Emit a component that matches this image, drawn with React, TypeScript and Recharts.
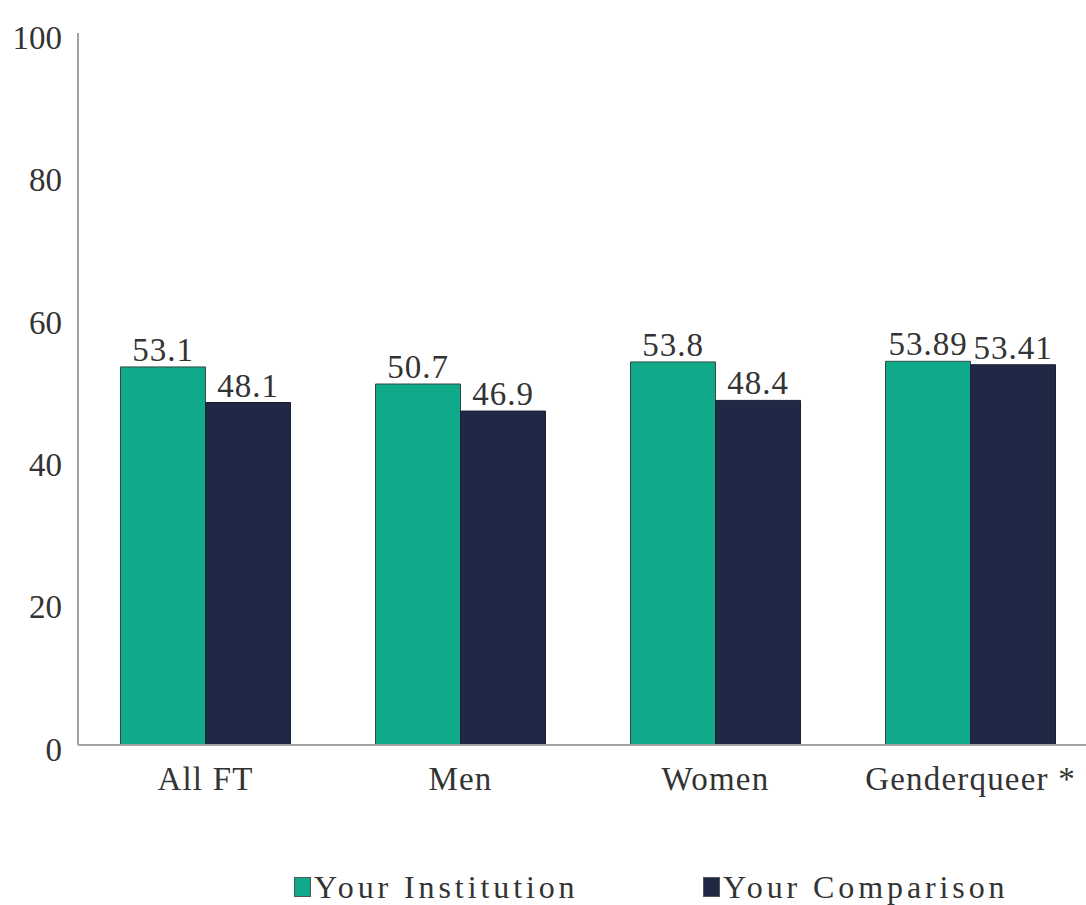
import { Bar, BarChart, XAxis, YAxis, Legend, LabelList } from "recharts"

const groups = ["All FT", "Men", "Women", "Genderqueer *"]
const institution = [53.1, 50.7, 53.8, 53.89]
const comparison = [48.1, 46.9, 48.4, 53.41]
const yTicks = [0, 20, 40, 60, 80, 100]

const seriesNames = ["Your Institution", "Your Comparison"]
const seriesColors = ["#10a98a", "#1f2945"]

const data = groups.map((group, i) => ({
  group,
  institution: institution[i],
  comparison: comparison[i],
}))

const font = "'Liberation Serif', 'Times New Roman', serif"
const textColor = "#333"
const axisColor = "#a3a3a3"

// legend sits off-centre, each entry in a fixed-width slot
function LegendContent() {
  return (
    <div
      style={{
        display: "flex",
        alignItems: "center",
        height: 36,
        paddingLeft: 294,
        fontFamily: font,
        whiteSpace: "nowrap",
      }}
    >
      {seriesNames.map((name, i) => (
        <div key={name} style={{ display: "flex", alignItems: "center", flexShrink: 0, width: 409 }}>
          <span
            style={{
              display: "inline-block",
              width: 15,
              height: 18,
              background: seriesColors[i],
              border: "1px solid #555",
              marginRight: 3,
            }}
          />
          <span style={{ fontSize: 32, color: textColor, letterSpacing: 3.9 }}>{name}</span>
        </div>
      ))}
    </div>
  )
}

export default function App() {
  return (
    <div style={{ position: "absolute", left: 0, top: 0, width: 1086, height: 905, overflow: "hidden", background: "#fff" }}>
      <BarChart
        width={1098}
        height={905}
        data={data}
        margin={{ top: 33, right: 0, bottom: 0, left: 0 }}
        barCategoryGap="16.67%"
        barGap={0}
      >
        <XAxis
          dataKey="group"
          height={124}
          axisLine={{ stroke: axisColor, strokeWidth: 2 }}
          tickLine={false}
          tickSize={0}
          tickMargin={22}
          tick={{ fill: textColor, fontSize: 33, fontFamily: font, letterSpacing: 1.2 }}
        />
        <YAxis
          width={78}
          domain={[0, 100]}
          ticks={yTicks}
          axisLine={{ stroke: axisColor, strokeWidth: 2 }}
          tickLine={false}
          tickSize={0}
          tickMargin={16}
          tick={{ fill: textColor, fontSize: 33, fontFamily: font, dy: 4 }}
        />
        <Legend verticalAlign="bottom" height={36} content={<LegendContent />} />
        <Bar dataKey="institution" name={seriesNames[0]} fill={seriesColors[0]} stroke="#2f4a45" strokeWidth={1} isAnimationActive={false}>
          <LabelList
            dataKey="institution"
            position="top"
            offset={6}
            style={{ fill: textColor, fontSize: 33, fontFamily: font, letterSpacing: 1 }}
          />
        </Bar>
        <Bar dataKey="comparison" name={seriesNames[1]} fill={seriesColors[1]} stroke="#1a2033" strokeWidth={1} isAnimationActive={false}>
          <LabelList
            dataKey="comparison"
            position="top"
            offset={6}
            style={{ fill: textColor, fontSize: 33, fontFamily: font, letterSpacing: 1 }}
          />
        </Bar>
      </BarChart>
    </div>
  )
}
